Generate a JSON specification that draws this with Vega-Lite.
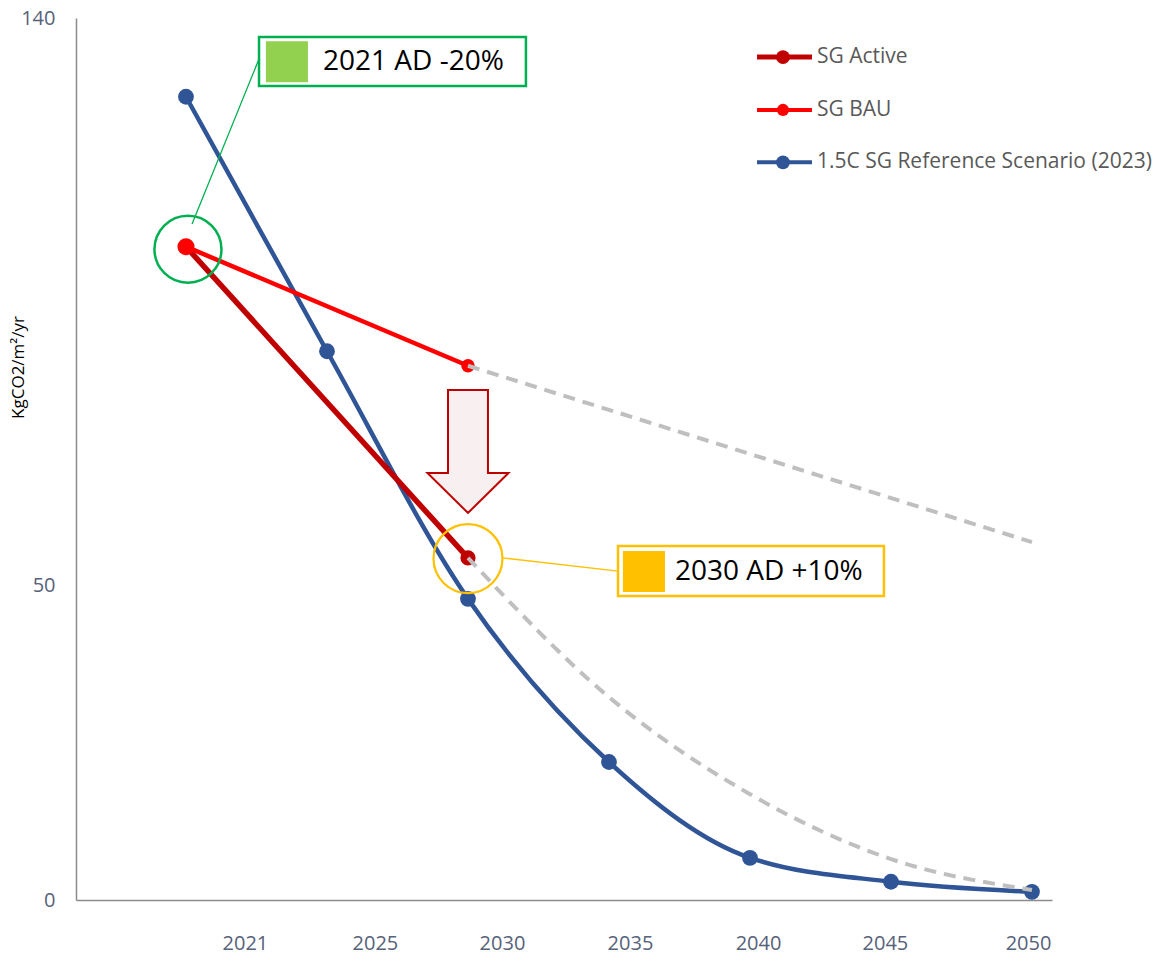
{
  "$schema": "https://vega.github.io/schema/vega-lite/v6.json",
  "width": 976,
  "height": 882,
  "autosize": {"type": "none"},
  "padding": {"left": 76, "top": 18, "right": 106, "bottom": 55},
  "background": "#ffffff",
  "config": {
    "font": "Open Sans",
    "view": {"stroke": null},
    "axis": {"grid": false, "ticks": false, "tickSize": 0, "domainColor": "#8C8C8C", "domainWidth": 1.5,
      "labelFont": "Open Sans", "labelFontSize": 20, "labelColor": "#56627A", "labelFlush": false, "labelOverlap": false}
  },
  "datasets": {
    "series": [
      {"year": "2021", "pos": 0, "value": 127.5, "series": "1.5C SG Reference Scenario (2023)"},
      {"year": "2025", "pos": 1, "value": 87.1, "series": "1.5C SG Reference Scenario (2023)"},
      {"year": "2030", "pos": 2, "value": 47.8, "series": "1.5C SG Reference Scenario (2023)"},
      {"year": "2035", "pos": 3, "value": 21.9, "series": "1.5C SG Reference Scenario (2023)"},
      {"year": "2040", "pos": 4, "value": 6.7, "series": "1.5C SG Reference Scenario (2023)"},
      {"year": "2045", "pos": 5, "value": 2.9, "series": "1.5C SG Reference Scenario (2023)"},
      {"year": "2050", "pos": 6, "value": 1.3, "series": "1.5C SG Reference Scenario (2023)"},
      {"year": "2021", "pos": 0, "value": 103.7, "series": "SG Active"},
      {"year": "2030", "pos": 2, "value": 54.3, "series": "SG Active"},
      {"year": "2021", "pos": 0, "value": 103.7, "series": "SG BAU"},
      {"year": "2030", "pos": 2, "value": 84.8, "series": "SG BAU"}
    ],
    "projection": [
      {"year": "2030", "pos": 2, "value": 84.8, "path": "SG BAU"},
      {"year": "2050", "pos": 6, "value": 56.8, "path": "SG BAU"},
      {"year": "2030", "pos": 2, "value": 54.3, "path": "SG Active"},
      {"year": "2035", "pos": 3, "value": 32.2, "path": "SG Active"},
      {"year": "2040", "pos": 4, "value": 16.8, "path": "SG Active"},
      {"year": "2045", "pos": 5, "value": 6.5, "path": "SG Active"},
      {"year": "2050", "pos": 6, "value": 1.6, "path": "SG Active"}
    ]
  },
  "layer": [
    {
      "data": {"name": "series"},
      "transform": [{"filter": "datum.series == '1.5C SG Reference Scenario (2023)'"}],
      "mark": {"type": "line", "color": "#2F5597", "strokeWidth": 4.5, "interpolate": "monotone"},
      "encoding": {
        "x": {"field": "pos", "type": "quantitative", "scale": {"domain": [-0.78, 6.142], "nice": false, "zero": false},
          "axis": {"values": [0.418, 1.34, 2.241, 3.149, 4.057, 4.957, 5.972],
            "labelExpr": "datum.value < 0.8 ? '2021' : datum.value < 1.8 ? '2025' : datum.value < 2.7 ? '2030' : datum.value < 3.6 ? '2035' : datum.value < 4.5 ? '2040' : datum.value < 5.5 ? '2045' : '2050'",
            "title": null, "grid": false, "ticks": false, "tickSize": 0, "labelPadding": 43, "labelBaseline": "middle",
            "labelFlush": false, "labelOverlap": false}},
        "y": {"field": "value", "type": "quantitative", "scale": {"domain": [0, 140], "nice": false},
          "axis": {"values": [0, 50, 140], "title": "KgCO2/m²/yr", "grid": false, "ticks": false, "tickSize": 0,
            "labelPadding": 21, "labelFlush": false, "labelOverlap": false,
            "titleFont": "Open Sans", "titleFontSize": 17, "titleFontWeight": "normal", "titleColor": "#000000",
            "titleAngle": -90, "titleX": -58, "titleY": 349, "titleAlign": "center", "titleBaseline": "middle"}}
      }
    },
    {
      "data": {"name": "series"},
      "transform": [{"filter": "datum.series == 'SG Active'"}],
      "mark": {"type": "line", "color": "#C00000", "strokeWidth": 5.5},
      "encoding": {
        "x": {"field": "pos", "type": "quantitative", "scale": {"domain": [-0.78, 6.142], "nice": false, "zero": false}},
        "y": {"field": "value", "type": "quantitative", "scale": {"domain": [0, 140], "nice": false}}
      }
    },
    {
      "data": {"name": "series"},
      "transform": [{"filter": "datum.series == 'SG BAU'"}],
      "mark": {"type": "line", "color": "#FF0000", "strokeWidth": 4.5},
      "encoding": {
        "x": {"field": "pos", "type": "quantitative", "scale": {"domain": [-0.78, 6.142], "nice": false, "zero": false}},
        "y": {"field": "value", "type": "quantitative", "scale": {"domain": [0, 140], "nice": false}}
      }
    },
    {
      "data": {"name": "series"},
      "transform": [{"filter": "datum.series == '1.5C SG Reference Scenario (2023)'"}],
      "mark": {"type": "point", "filled": true, "opacity": 1, "color": "#2F5597", "size": 250},
      "encoding": {
        "x": {"field": "pos", "type": "quantitative", "scale": {"domain": [-0.78, 6.142], "nice": false, "zero": false}},
        "y": {"field": "value", "type": "quantitative", "scale": {"domain": [0, 140], "nice": false}}
      }
    },
    {
      "data": {"name": "series"},
      "transform": [{"filter": "datum.series == 'SG Active'"}],
      "mark": {"type": "point", "filled": true, "opacity": 1, "color": "#C00000", "size": 230},
      "encoding": {
        "x": {"field": "pos", "type": "quantitative", "scale": {"domain": [-0.78, 6.142], "nice": false, "zero": false}},
        "y": {"field": "value", "type": "quantitative", "scale": {"domain": [0, 140], "nice": false}}
      }
    },
    {
      "data": {"name": "series"},
      "transform": [{"filter": "datum.series == 'SG BAU'"}],
      "mark": {"type": "point", "filled": true, "opacity": 1, "color": "#FF0000"},
      "encoding": {
        "x": {"field": "pos", "type": "quantitative", "scale": {"domain": [-0.78, 6.142], "nice": false, "zero": false}},
        "y": {"field": "value", "type": "quantitative", "scale": {"domain": [0, 140], "nice": false}},
        "size": {"condition": {"test": "datum.pos == 0", "value": 290}, "value": 180}
      }
    },
    {
      "data": {"name": "projection"},
      "mark": {"type": "line", "color": "#BFBFBF", "strokeWidth": 4, "strokeDash": [12, 8], "interpolate": "monotone"},
      "encoding": {
        "x": {"field": "pos", "type": "quantitative", "scale": {"domain": [-0.78, 6.142], "nice": false, "zero": false}},
        "y": {"field": "value", "type": "quantitative", "scale": {"domain": [0, 140], "nice": false}},
        "detail": {"field": "path", "type": "nominal"}
      }
    },
    {
      "data": {"values": [{"note": "reduction arrow"}]},
      "mark": {"type": "point", "shape": "M-0.325,-1L0.325,-1L0.325,0.35L0.659,0.35L0,1L-0.659,0.35L-0.325,0.35Z",
        "size": 15129, "filled": true, "fill": "#F8F0F0", "stroke": "#C00000", "strokeWidth": 2, "opacity": 1},
      "encoding": {
        "x": {"datum": 2.0, "type": "quantitative", "scale": {"domain": [-0.78, 6.142], "nice": false, "zero": false}},
        "y": {"datum": 71.2, "type": "quantitative", "scale": {"domain": [0, 140], "nice": false}}
      }
    },
    {
      "data": {"values": [{"note": "2021"}]},
      "mark": {"type": "point", "shape": "circle", "filled": false, "color": "#00B050", "strokeWidth": 2.5, "size": 4489, "opacity": 1},
      "encoding": {
        "x": {"datum": 0.014, "type": "quantitative", "scale": {"domain": [-0.78, 6.142], "nice": false, "zero": false}},
        "y": {"datum": 103.3, "type": "quantitative", "scale": {"domain": [0, 140], "nice": false}}
      }
    },
    {
      "data": {"values": [{"note": "2030"}]},
      "mark": {"type": "point", "shape": "circle", "filled": false, "color": "#FFC000", "strokeWidth": 2.2, "size": 4761, "opacity": 1},
      "encoding": {
        "x": {"datum": 2.0, "type": "quantitative", "scale": {"domain": [-0.78, 6.142], "nice": false, "zero": false}},
        "y": {"datum": 54.2, "type": "quantitative", "scale": {"domain": [0, 140], "nice": false}}
      }
    },
    {
      "data": {"values": [{"note": "2021"}]},
      "mark": {"type": "rule", "color": "#00B050", "strokeWidth": 1.3},
      "encoding": {
        "x": {"datum": 0.043, "type": "quantitative", "scale": {"domain": [-0.78, 6.142], "nice": false, "zero": false}},
        "x2": {"datum": 0.518},
        "y": {"datum": 107.3, "type": "quantitative", "scale": {"domain": [0, 140], "nice": false}},
        "y2": {"datum": 133.5}
      }
    },
    {
      "data": {"values": [{"note": "2030"}]},
      "mark": {"type": "rule", "color": "#FFC000", "strokeWidth": 1.3},
      "encoding": {
        "x": {"datum": 2.248, "type": "quantitative", "scale": {"domain": [-0.78, 6.142], "nice": false, "zero": false}},
        "x2": {"datum": 3.064},
        "y": {"datum": 54.3, "type": "quantitative", "scale": {"domain": [0, 140], "nice": false}},
        "y2": {"datum": 52.2}
      }
    },
    {
      "data": {"values": [{"note": "2021"}]},
      "mark": {"type": "rect", "fill": "#ffffff", "stroke": "#00B050", "strokeWidth": 2.5},
      "encoding": {
        "x": {"datum": 0.518, "type": "quantitative", "scale": {"domain": [-0.78, 6.142], "nice": false, "zero": false}},
        "x2": {"datum": 2.411},
        "y": {"datum": 137.0, "type": "quantitative", "scale": {"domain": [0, 140], "nice": false}},
        "y2": {"datum": 129.2}
      }
    },
    {
      "data": {"values": [{"note": "2021"}]},
      "mark": {"type": "rect", "fill": "#92D050"},
      "encoding": {
        "x": {"datum": 0.567, "type": "quantitative", "scale": {"domain": [-0.78, 6.142], "nice": false, "zero": false}},
        "x2": {"datum": 0.865},
        "y": {"datum": 136.3, "type": "quantitative", "scale": {"domain": [0, 140], "nice": false}},
        "y2": {"datum": 129.8}
      }
    },
    {
      "data": {"values": [{"label": "2021 AD -20%"}]},
      "mark": {"type": "text", "align": "left", "baseline": "middle", "font": "Open Sans", "fontSize": 28, "color": "#000000"},
      "encoding": {
        "x": {"datum": 0.972, "type": "quantitative", "scale": {"domain": [-0.78, 6.142], "nice": false, "zero": false}},
        "y": {"datum": 133.0, "type": "quantitative", "scale": {"domain": [0, 140], "nice": false}},
        "text": {"field": "label"}
      }
    },
    {
      "data": {"values": [{"note": "2030"}]},
      "mark": {"type": "rect", "fill": "#ffffff", "stroke": "#FFC000", "strokeWidth": 2.5},
      "encoding": {
        "x": {"datum": 3.064, "type": "quantitative", "scale": {"domain": [-0.78, 6.142], "nice": false, "zero": false}},
        "x2": {"datum": 4.95},
        "y": {"datum": 56.19, "type": "quantitative", "scale": {"domain": [0, 140], "nice": false}},
        "y2": {"datum": 48.25}
      }
    },
    {
      "data": {"values": [{"note": "2030"}]},
      "mark": {"type": "rect", "fill": "#FFC000"},
      "encoding": {
        "x": {"datum": 3.099, "type": "quantitative", "scale": {"domain": [-0.78, 6.142], "nice": false, "zero": false}},
        "x2": {"datum": 3.397},
        "y": {"datum": 55.4, "type": "quantitative", "scale": {"domain": [0, 140], "nice": false}},
        "y2": {"datum": 48.89}
      }
    },
    {
      "data": {"values": [{"label": "2030 AD +10%"}]},
      "mark": {"type": "text", "align": "left", "baseline": "middle", "font": "Open Sans", "fontSize": 28, "color": "#000000"},
      "encoding": {
        "x": {"datum": 3.468, "type": "quantitative", "scale": {"domain": [-0.78, 6.142], "nice": false, "zero": false}},
        "y": {"datum": 52.06, "type": "quantitative", "scale": {"domain": [0, 140], "nice": false}},
        "text": {"field": "label"}
      }
    },
    {
      "data": {"values": [{"series": "SG Active"}]},
      "encoding": {
        "y": {"datum": 133.8, "type": "quantitative", "scale": {"domain": [0, 140], "nice": false}}
      },
      "layer": [
        {"mark": {"type": "rule", "color": "#C00000", "strokeWidth": 5},
          "encoding": {"x": {"datum": 4.05, "type": "quantitative", "scale": {"domain": [-0.78, 6.142], "nice": false, "zero": false}}, "x2": {"datum": 4.44}}},
        {"mark": {"type": "point", "filled": true, "opacity": 1, "color": "#C00000", "size": 190},
          "encoding": {"x": {"datum": 4.234, "type": "quantitative", "scale": {"domain": [-0.78, 6.142], "nice": false, "zero": false}}}},
        {"mark": {"type": "text", "align": "left", "baseline": "middle", "font": "Open Sans", "fontSize": 21, "color": "#595959"},
          "encoding": {"x": {"datum": 4.475, "type": "quantitative", "scale": {"domain": [-0.78, 6.142], "nice": false, "zero": false}}, "text": {"field": "series"}}}
      ]
    },
    {
      "data": {"values": [{"series": "SG BAU"}]},
      "encoding": {
        "y": {"datum": 125.4, "type": "quantitative", "scale": {"domain": [0, 140], "nice": false}}
      },
      "layer": [
        {"mark": {"type": "rule", "color": "#FF0000", "strokeWidth": 4},
          "encoding": {"x": {"datum": 4.05, "type": "quantitative", "scale": {"domain": [-0.78, 6.142], "nice": false, "zero": false}}, "x2": {"datum": 4.44}}},
        {"mark": {"type": "point", "filled": true, "opacity": 1, "color": "#FF0000", "size": 150},
          "encoding": {"x": {"datum": 4.234, "type": "quantitative", "scale": {"domain": [-0.78, 6.142], "nice": false, "zero": false}}}},
        {"mark": {"type": "text", "align": "left", "baseline": "middle", "font": "Open Sans", "fontSize": 21, "color": "#595959"},
          "encoding": {"x": {"datum": 4.475, "type": "quantitative", "scale": {"domain": [-0.78, 6.142], "nice": false, "zero": false}}, "text": {"field": "series"}}}
      ]
    },
    {
      "data": {"values": [{"series": "1.5C SG Reference Scenario (2023)"}]},
      "encoding": {
        "y": {"datum": 117.1, "type": "quantitative", "scale": {"domain": [0, 140], "nice": false}}
      },
      "layer": [
        {"mark": {"type": "rule", "color": "#2F5597", "strokeWidth": 4},
          "encoding": {"x": {"datum": 4.05, "type": "quantitative", "scale": {"domain": [-0.78, 6.142], "nice": false, "zero": false}}, "x2": {"datum": 4.44}}},
        {"mark": {"type": "point", "filled": true, "opacity": 1, "color": "#2F5597", "size": 190},
          "encoding": {"x": {"datum": 4.234, "type": "quantitative", "scale": {"domain": [-0.78, 6.142], "nice": false, "zero": false}}}},
        {"mark": {"type": "text", "align": "left", "baseline": "middle", "font": "Open Sans", "fontSize": 21, "color": "#595959"},
          "encoding": {"x": {"datum": 4.475, "type": "quantitative", "scale": {"domain": [-0.78, 6.142], "nice": false, "zero": false}}, "text": {"field": "series"}}}
      ]
    }
  ]
}
